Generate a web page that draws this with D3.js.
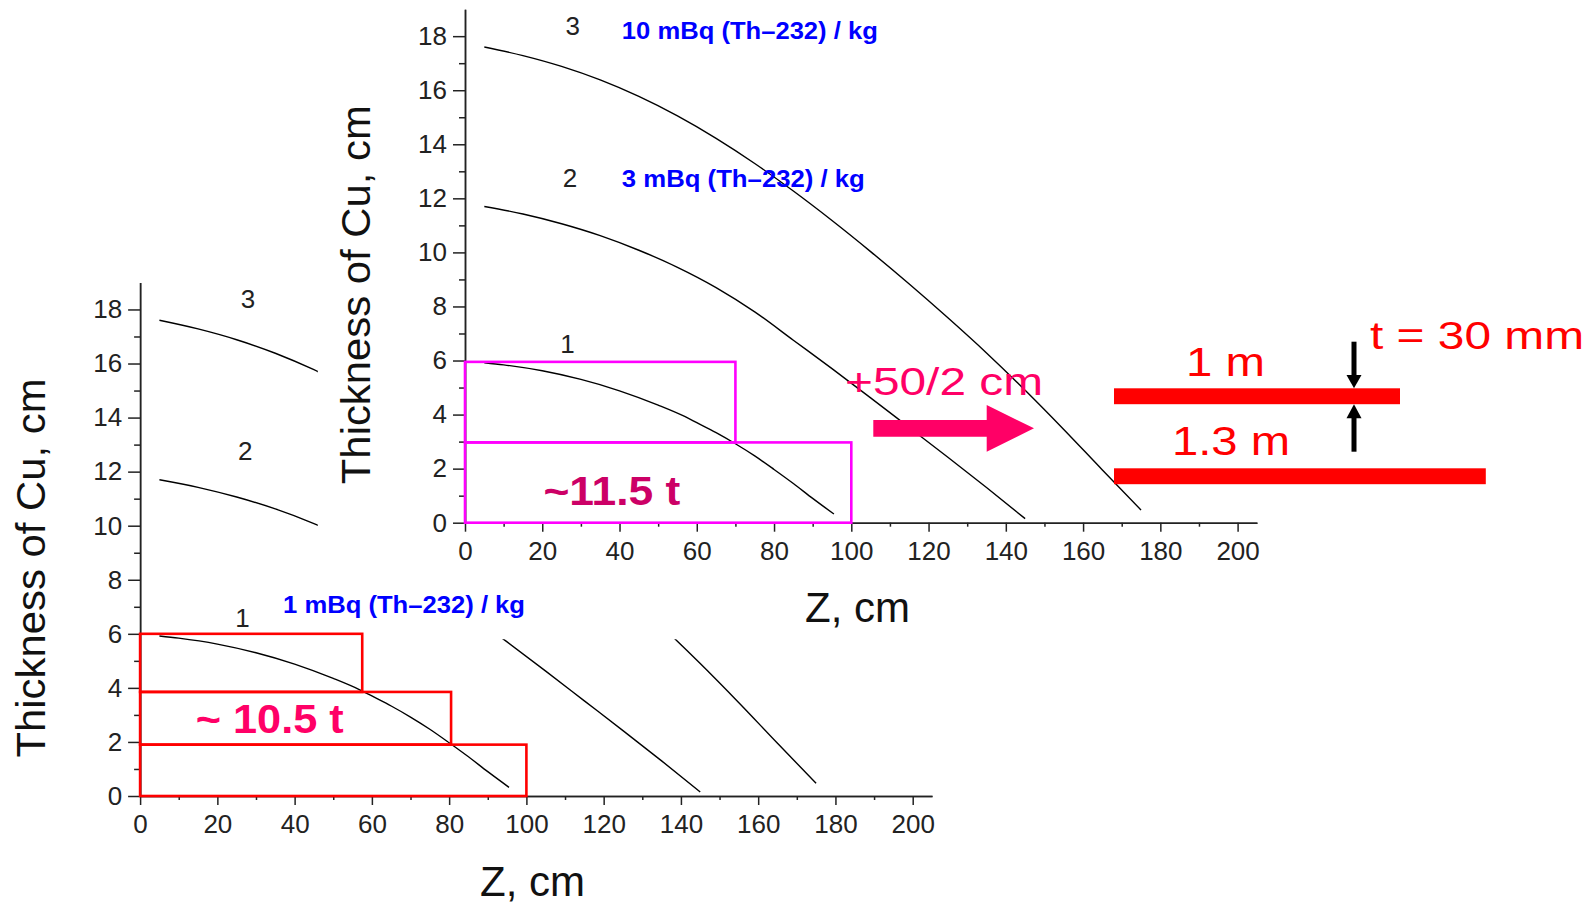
<!DOCTYPE html>
<html>
<head>
<meta charset="utf-8">
<script src="https://cdn.jsdelivr.net/npm/d3@7"></script>
<style>
  body { margin: 0; background: #fff; }
  text { font-family: "Liberation Sans", Arial, sans-serif; }
</style>
</head>
<body>
<svg id="chart"></svg>
<script>
const width = 1592;
const height = 905;

// thickness of Cu (cm) needed vs Z (cm)
const curve1 = [[5, 5.92], [10, 5.84], [20, 5.62], [30, 5.3], [40, 4.88], [50, 4.35], [57, 3.92],
  [60, 3.7], [65, 3.33], [70, 2.92], [75, 2.47], [80, 1.97], [85, 1.45], [90, 0.9], [95.5, 0.32]];
const curve2 = [[5, 11.7], [15, 11.42], [25, 11.06], [35, 10.62], [45, 10.08], [55, 9.45], [65, 8.7],
  [75, 7.8], [85, 6.75], [95, 5.7], [105, 4.62], [115, 3.52], [125, 2.42], [135, 1.3], [145, 0.15]];
const curve3 = [[5, 17.6], [15, 17.28], [25, 16.88], [35, 16.38], [45, 15.77], [55, 15.05], [65, 14.22],
  [75, 13.29], [85, 12.27], [95, 11.18], [105, 10.03], [115, 8.83], [125, 7.58], [135, 6.28],
  [145, 4.9], [155, 3.45], [165, 1.95], [175, 0.47]];
const curves = [curve1, curve2, curve3];
const curveNames = ["1", "2", "3"];
const activities = ["1 mBq (Th\u2013232) / kg", "3 mBq (Th\u2013232) / kg", "10 mBq (Th\u2013232) / kg"];

// stepped shielding layers: [Z extent cm, top thickness cm], from top layer down
const layersLow = [[57.5, 6], [80.5, 3.85], [100, 1.9]];
const layersHigh = [[70, 5.95], [100, 2.97]];
const massLabels = ["~ 10.5 t", "~11.5 t"];

// axis ticks
const zTicks = d3.range(0, 201, 20);
const zMinor = d3.range(10, 201, 20);
const tTicks = d3.range(0, 19, 2);
const tMinor = d3.range(1, 19, 2);

// plates on the right
const plateLengths = [1, 1.3];
const plateLabels = ["1 m", "1.3 m"];
const plateThick = 30; // mm

const svg = d3.select("#chart").attr("width", width).attr("height", height);

const pink = "#ff0066";

function drawPanel(ox, oy, cfg) {
  const x = d3.scaleLinear().domain([0, 205]).range([ox, ox + 205 * 3.863]);
  const y = d3.scaleLinear().domain([0, 19]).range([oy, oy - 19 * 27.03]);
  const g = svg.append("g");

  // axes: minor first, then major with labels
  const styleAxis = (a) => {
    a.selectAll("path.domain").attr("stroke", "#222").attr("stroke-width", 1.5);
    a.selectAll(".tick line").attr("stroke", "#222").attr("stroke-width", 1.5);
    a.selectAll(".tick text").attr("fill", "#222").style("font-size", "26px")
      .style("font-family", '"Liberation Sans", Arial, sans-serif');
  };
  g.append("g").attr("transform", `translate(0,${oy})`)
    .call(d3.axisBottom(x).tickValues(zMinor).tickSize(4).tickSizeOuter(0).tickFormat(""))
    .call(styleAxis);
  g.append("g").attr("transform", `translate(${ox},0)`)
    .call(d3.axisLeft(y).tickValues(tMinor).tickSize(6).tickSizeOuter(0).tickFormat(""))
    .call(styleAxis);
  g.append("g").attr("transform", `translate(0,${oy})`)
    .call(d3.axisBottom(x).tickValues(zTicks).tickSize(9).tickPadding(10).tickSizeOuter(0))
    .call(styleAxis);
  g.append("g").attr("transform", `translate(${ox},0)`)
    .call(d3.axisLeft(y).tickValues(tTicks).tickSize(12).tickPadding(6).tickSizeOuter(0))
    .call(styleAxis);

  // axis titles
  g.append("text")
    .attr("transform", `translate(${ox - 95.3},${oy - 228}) rotate(-90)`)
    .attr("text-anchor", "middle")
    .attr("textLength", 379).attr("lengthAdjust", "spacingAndGlyphs")
    .style("font-size", "40px").attr("fill", "#111")
    .text("Thickness of Cu, cm");
  g.append("text")
    .attr("x", ox + 392.5).attr("y", oy + 99.5)
    .attr("text-anchor", "middle")
    .style("font-size", "42px").attr("fill", "#111")
    .text("Z, cm");

  // curves
  const line = d3.line().x((d) => x(d[0])).y((d) => y(d[1])).curve(d3.curveMonotoneX);
  const curveG = g.append("g");
  if (cfg.clipId) {
    // lower panel only shows the start of curves 2, 3 and their ends below ~5.8 cm
    const clip = svg.append("clipPath").attr("id", cfg.clipId);
    clip.append("rect").attr("x", x(-5)).attr("y", y(19.5))
      .attr("width", x(46) - x(-5)).attr("height", y(-1) - y(19.5));
    clip.append("rect").attr("x", x(-5)).attr("y", y(5.8))
      .attr("width", x(210) - x(-5)).attr("height", y(-1) - y(5.8));
    curveG.attr("clip-path", `url(#${cfg.clipId})`);
  }
  curveG.selectAll("path")
    .data(curves)
    .enter()
    .append("path")
    .attr("d", line)
    .attr("fill", "none")
    .attr("stroke", "#000")
    .attr("stroke-width", 1.4);

  // curve numbers
  const numPos = [[26.5, 6.26], [27.2, 12.43], [27.9, 18.04]];
  g.selectAll("text.num")
    .data(curveNames)
    .enter()
    .append("text")
    .attr("class", "num")
    .attr("x", (d, i) => x(numPos[i][0]))
    .attr("y", (d, i) => y(numPos[i][1]))
    .attr("text-anchor", "middle")
    .style("font-size", "26px").attr("fill", "#222")
    .text((d) => d);

  // activity labels
  cfg.activity.forEach((a) => {
    g.append("text")
      .attr("x", x(a.z)).attr("y", y(a.t))
      .attr("textLength", a.len).attr("lengthAdjust", "spacingAndGlyphs")
      .style("font-size", "23px").style("font-weight", "bold").attr("fill", "#0000ff")
      .text(activities[a.i]);
  });

  // shielding layers, stacked slabs forming a staircase
  const layers = cfg.layers;
  g.selectAll("rect.layer")
    .data(layers)
    .enter()
    .append("rect")
    .attr("class", "layer")
    .attr("x", x(0))
    .attr("y", (d) => y(d[1]))
    .attr("width", (d) => x(d[0]) - x(0))
    .attr("height", (d, i) => y(i + 1 < layers.length ? layers[i + 1][1] : 0) - y(d[1]))
    .attr("fill", "none")
    .attr("stroke", cfg.boxColor)
    .attr("stroke-width", 2.6);

  g.append("text")
    .attr("x", x(cfg.mass.z)).attr("y", y(cfg.mass.t))
    .attr("textLength", cfg.mass.len).attr("lengthAdjust", "spacingAndGlyphs")
    .style("font-size", "40px").style("font-weight", "bold").attr("fill", cfg.mass.color)
    .text(massLabels[cfg.mass.i]);

  return { x, y };
}

drawPanel(140.1, 796, {
  clipId: "cutLow",
  layers: layersLow,
  boxColor: "#ff0000",
  activity: [{ i: 0, z: 37.0, t: 6.76, len: 242 }],
  mass: { i: 0, z: 14.4, t: 2.32, len: 148, color: pink }
});

drawPanel(465, 522.7, {
  layers: layersHigh,
  boxColor: "#ff00ff",
  activity: [
    { i: 2, z: 40.6, t: 17.88, len: 256 },
    { i: 1, z: 40.6, t: 12.43, len: 243 }
  ],
  mass: { i: 1, z: 20.3, t: 0.65, len: 137, color: "#cc0066" }
});

// "+50/2 cm" with arrow
svg.append("text")
  .attr("x", 845).attr("y", 395)
  .attr("textLength", 198).attr("lengthAdjust", "spacingAndGlyphs")
  .style("font-size", "38px").attr("fill", pink)
  .text("+50/2 cm");
svg.append("path")
  .attr("d", "M873.3,420 L986.7,420 L986.7,405 L1034,428.3 L986.7,451.7 L986.7,436.7 L873.3,436.7 Z")
  .attr("fill", pink);

// plates
const px = d3.scaleLinear().domain([0, 1]).range([0, 286]);
const plateH = plateThick * 0.53;
const plateTop = [388.3, 468.3];
svg.selectAll("rect.plate")
  .data(plateLengths)
  .enter()
  .append("rect")
  .attr("class", "plate")
  .attr("x", 1114)
  .attr("y", (d, i) => plateTop[i])
  .attr("width", (d) => px(d))
  .attr("height", plateH)
  .attr("fill", "#ff0000");

const plateText = [{ x: 1186, y: 376, len: 79 }, { x: 1172, y: 455, len: 118 }];
svg.selectAll("text.plate")
  .data(plateLabels)
  .enter()
  .append("text")
  .attr("class", "plate")
  .attr("x", (d, i) => plateText[i].x)
  .attr("y", (d, i) => plateText[i].y)
  .attr("textLength", (d, i) => plateText[i].len)
  .attr("lengthAdjust", "spacingAndGlyphs")
  .style("font-size", "40px").attr("fill", "#ff0000")
  .text((d) => d);

svg.append("text")
  .attr("x", 1370).attr("y", 349.3)
  .attr("textLength", 214).attr("lengthAdjust", "spacingAndGlyphs")
  .style("font-size", "38px").attr("fill", "#ff0000")
  .text("t = " + plateThick + " mm");

// thickness arrows
const ax = 1354;
svg.append("rect").attr("x", ax - 2.5).attr("y", 341.7).attr("width", 5).attr("height", 35).attr("fill", "#000");
svg.append("path").attr("d", `M${ax - 7.5},375 L${ax + 7.5},375 L${ax},${plateTop[0]} Z`).attr("fill", "#000");
svg.append("path").attr("d", `M${ax - 7.5},418.3 L${ax + 7.5},418.3 L${ax},${plateTop[0] + plateH} Z`).attr("fill", "#000");
svg.append("rect").attr("x", ax - 2.5).attr("y", 417).attr("width", 5).attr("height", 34.7).attr("fill", "#000");
</script>
</body>
</html>
